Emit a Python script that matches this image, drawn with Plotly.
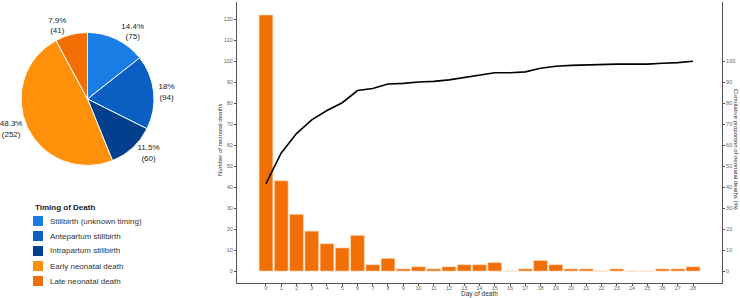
import plotly.graph_objects as go

# Pie data
pie_labels = ["Stillbirth (unknown timing)", "Antepartum stillbirth", "Intrapartum stillbirth",
              "Early neonatal death", "Late neonatal death"]
pie_values = [75, 94, 60, 252, 41]
pie_pct_text = ["14.4%", "18%", "11.5%", "48.3%", "7.9%"]
pie_colors = ["#1a7de6", "#0b5fc2", "#023f8c", "#ff9009", "#f26f05"]
legend_title = "Timing of Death"

# Bar data
days = list(range(29))
deaths = [122, 43, 27, 19, 13, 11, 17, 3, 6, 1, 2, 1, 2, 3, 3, 4, 0, 1, 5, 3, 1, 1, 0, 1, 0, 0, 1, 1, 2]
cum_pct = [41.6, 56.3, 65.5, 72.0, 76.5, 80.2, 86.0, 87.0, 89.1, 89.4, 90.1, 90.4, 91.1, 92.2,
           93.2, 94.5, 94.5, 94.9, 96.6, 97.6, 98.0, 98.3, 98.3, 98.6, 98.6, 98.6, 99.0, 99.3, 100.0]
left_ticks = list(range(0, 121, 10))
right_ticks = list(range(0, 101, 10))

FONT = "Liberation Sans, Arial, sans-serif"
YR = [-5.7, 128.2]
W, H = 740, 298


def px(x):
    return x / W


def py(y):
    return 1 - y / H


fig = go.Figure()

fig.add_trace(go.Pie(
    labels=pie_labels, values=pie_values, customdata=pie_pct_text,
    texttemplate="%{customdata}<br>(%{value})", textposition="outside",
    textfont=dict(size=8, color="#222", family=FONT),
    marker=dict(colors=pie_colors, line=dict(color="white", width=1)),
    sort=False, direction="clockwise", rotation=0,
    domain=dict(x=[px(21), px(154)], y=[py(166), py(32)]),
    showlegend=False, hoverinfo="skip", automargin=False,
))

fig.add_trace(go.Bar(
    x=days, y=deaths, width=0.9, marker=dict(color="#f26f05", line=dict(color="#fbd3b0", width=0.6)),
    showlegend=False, xaxis="x", yaxis="y",
))

fig.add_trace(go.Scatter(
    x=days, y=cum_pct, mode="lines", line=dict(color="black", width=1.6),
    showlegend=False, xaxis="x", yaxis="y2",
))

axis_common = dict(showgrid=False, zeroline=False, showline=True, linecolor="#555", linewidth=1,
                   ticks="outside", ticklen=2, tickcolor="#555", automargin=False,
                   tickfont=dict(size=5.5, color="#666", family=FONT))

annotations = [
    dict(text="Cumulative proportion of neonatal deaths (%)", textangle=90,
         x=px(736), y=py(149), xref="paper", yref="paper", showarrow=False,
         xanchor="center", yanchor="middle",
         font=dict(size=6, color="#333", family=FONT)),
    dict(text="Number of neonatal deaths", textangle=-90,
         x=px(220), y=py(140), xref="paper", yref="paper", showarrow=False,
         xanchor="center", yanchor="middle",
         font=dict(size=6, color="#333", family=FONT)),
    dict(text="Day of death", x=px(479), y=py(293.5), xref="paper", yref="paper",
         xanchor="center", yanchor="middle",
         showarrow=False, font=dict(size=6.5, color="#333", family=FONT)),
    dict(text="<b>" + legend_title + "</b>", x=px(33), y=py(207), xref="paper", yref="paper",
         xanchor="left", yanchor="middle", showarrow=False,
         font=dict(size=8, color="#222", family=FONT)),
]
shapes = []
for i, (lab, col) in enumerate(zip(pie_labels, pie_colors)):
    yc = 221 + 15 * i
    shapes.append(dict(type="rect", xref="paper", yref="paper",
                       x0=px(33), x1=px(43), y0=py(yc + 5), y1=py(yc - 5),
                       fillcolor=col, line=dict(width=0)))
    annotations.append(dict(text=lab, x=px(48), y=py(yc), xref="paper", yref="paper",
                            xanchor="left", yanchor="middle", showarrow=False,
                            font=dict(size=8, color="#333", family=FONT)))

fig.update_layout(
    width=W, height=H, margin=dict(l=0, r=0, t=0, b=0, autoexpand=False),
    paper_bgcolor="white", plot_bgcolor="white",
    font=dict(family=FONT), showlegend=False,
    xaxis=dict(domain=[px(237), px(722)], range=[-1.9, 29.9], tickvals=days, anchor="y",
               ticklabelstandoff=-3, **axis_common),
    yaxis=dict(domain=[py(283), py(2)], range=YR, tickvals=left_ticks, anchor="x",
               **axis_common),
    yaxis2=dict(range=YR, tickvals=right_ticks, overlaying="y", side="right", anchor="x",
                **axis_common),
    annotations=annotations,
    shapes=shapes,
)

fig.write_html("out.html", config={"displayModeBar": False},
               post_script="document.body.style.margin='0';")
